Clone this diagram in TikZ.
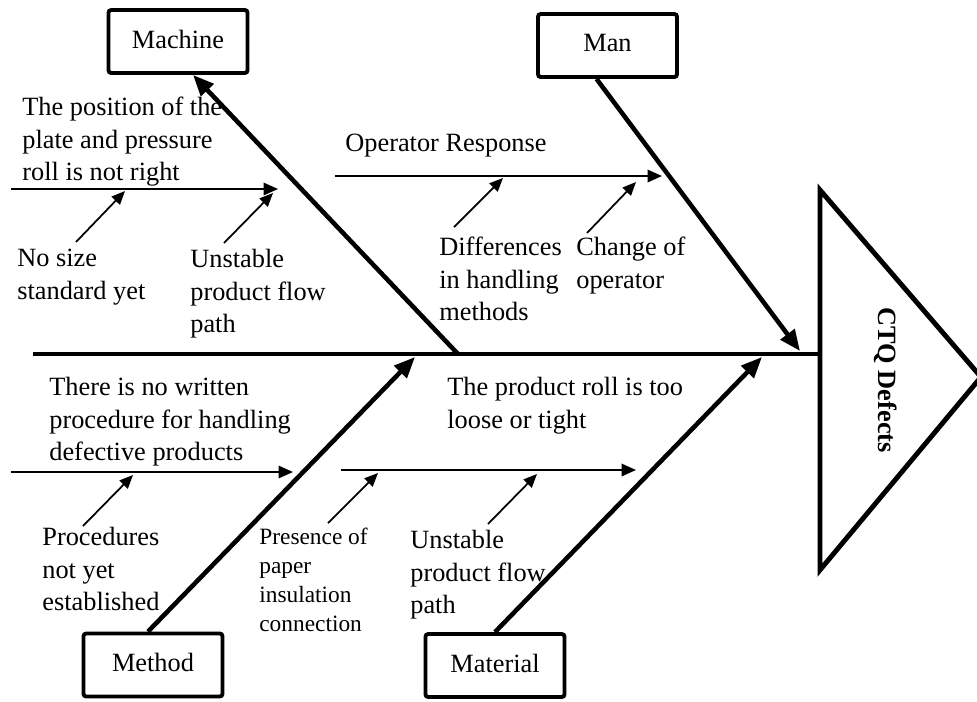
\documentclass[tikz,border=0pt]{standalone}
\usepackage{fontspec}
\setmainfont{Liberation Serif}
\usetikzlibrary{arrows.meta, positioning}
\tikzset{
  catbox/.style ={draw, line width=2.2pt, rounded corners=1.5pt,
                  minimum width=2.78cm, minimum height=1.26cm,
                  inner sep=0pt, text depth=0.3em,
                  font=\fontsize{15}{18.5}\selectfont},
  txt/.style    ={font=\fontsize{15}{18.5}\selectfont, align=left,
                  inner sep=0pt, anchor=north west},
  txts/.style   ={txt, font=\fontsize{13.3}{16.5}\selectfont},
  spine/.style  ={line width=2.8pt},
  bone/.style   ={-{Triangle[length=4.2mm, width=3.4mm]}, line width=2.6pt},
  sub/.style    ={-{Triangle[length=2.9mm, width=2.5mm]}, line width=1.1pt},
  cause/.style  ={-{Triangle[length=2.7mm, width=2.3mm]}, line width=1pt},
  head/.style   ={line width=2.8pt, line join=miter},
}
\begin{document}
\begin{tikzpicture}[x=0.02cm, y=-0.02cm]
  \clip (0,0) rectangle (977,701);
  % category boxes
  \node[catbox] (machine)  at (178,41.5)  {Machine};
  \node[catbox] (man)      at (607.5,45.5) {Man};
  \node[catbox] (method)   at (153,665)   {Method};
  \node[catbox] (material) at (495,665.5) {Material};
  % head of the fish
  \coordinate (hdT) at (820,190);
  \coordinate (hdB) at (820,570);
  \coordinate (hdA) at (981,377);
  \draw[head] (hdT) -- (hdA) -- (hdB) -- cycle;
  \node[font=\fontsize{15}{18}\selectfont\bfseries, rotate=-90] (ctq)
    at (886,380) {CTQ Defects};
  % spine and main bones
  \coordinate (tail) at (33,354);
  \coordinate (mcJ)  at (458,354);
  \coordinate (manJ) at (800,351);
  \coordinate (mtJ)  at (415,357);
  \coordinate (maJ)  at (762,357);
  \draw[spine] (tail) -- (820,354);
  \draw[bone] (mcJ) -- ([xshift=0.3cm]machine.south);
  \draw[bone] ([xshift=-0.22cm]man.south) -- (manJ);
  \draw[bone] ([xshift=-0.1cm]method.north) -- (mtJ);
  \draw[bone] (material.north) -- (maJ);
  % sub-bones
  \coordinate (mcS) at (11,189);  \coordinate (mcE) at (278,189);
  \coordinate (mnS) at (335,176); \coordinate (mnE) at (662,176);
  \coordinate (mtS) at (11,472);  \coordinate (mtE) at (293,472);
  \coordinate (maS) at (341,470); \coordinate (maE) at (636,470);
  \draw[sub] (mcS) -- (mcE);
  \draw[sub] (mnS) -- (mnE);
  \draw[sub] (mtS) -- (mtE);
  \draw[sub] (maS) -- (maE);
  % labels
  \node[txt] (plate) at (22,97)
    {The position of the\\plate and pressure\\roll is not right};
  \node[txt] (nosize) at (17,249) {No size\\standard yet};
  \node[txt] (flow1) at (190,249) {Unstable\\product flow\\path};
  \node[txt] (resp) at (345,134) {Operator Response};
  \node[txt] (diff) at (439,237) {Differences\\in handling\\methods};
  \node[txt] (chg) at (576,237) {Change of\\operator};
  \node[txt] (nowrit) at (49,377)
    {There is no written\\procedure for handling\\defective products};
  \node[txt] (roll) at (447,377) {The product roll is too\\loose or tight};
  \node[txt] (proc) at (42,527) {Procedures\\not yet\\established};
  \node[txts] (paper) at (259,528)
    {Presence of\\paper\\insulation\\connection};
  \node[txt] (flow2) at (410,530) {Unstable\\product flow\\path};
  % cause arrows
  \coordinate (c1) at (76,242);  \coordinate (d1) at (125,191);
  \coordinate (c2) at (224,243); \coordinate (d2) at (273,193);
  \coordinate (c3) at (454,227); \coordinate (d3) at (503,178);
  \coordinate (c4) at (587,233); \coordinate (d4) at (636,182);
  \coordinate (c5) at (83,526);  \coordinate (d5) at (133,475);
  \coordinate (c6) at (328,523); \coordinate (d6) at (378,473);
  \coordinate (c7) at (488,524); \coordinate (d7) at (537,474);
  \foreach \i in {1,...,7}
    \draw[cause] (c\i) -- (d\i);
\end{tikzpicture}
\end{document}
